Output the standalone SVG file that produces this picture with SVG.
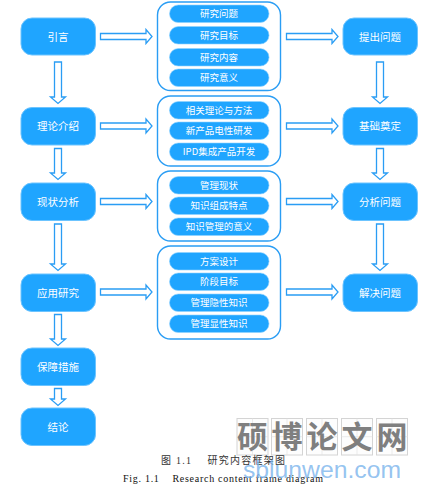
<svg xmlns="http://www.w3.org/2000/svg" width="425" height="489" viewBox="0 0 425 489">
<style>
text{font-family:"Noto Sans CJK SC","Liberation Sans",sans-serif}
.n{fill:#1fa5ff;stroke:#6cc4ff;stroke-width:1}
.g{fill:#fff;stroke:#2a9df4;stroke-width:1.4}
.p{fill:#1fa5ff;stroke:#8fd2ff;stroke-width:.6}
.t{fill:#fff;font-size:10.5px;text-anchor:middle}
.s{fill:#fff;font-size:9.5px;text-anchor:middle}
.a{fill:#fff;stroke:#2a9df4;stroke-width:1.3}
.w{fill:#fdfdfd;stroke:#d4d4d4;stroke-width:1}
.wl{stroke:#e2e2e2;stroke-width:.7;fill:none}
.wt{fill:#7f7f7f;font-size:31px;font-weight:700;text-anchor:middle;font-family:"Noto Sans CJK SC",sans-serif}
.c{font-family:"Liberation Serif","Noto Sans CJK SC",serif;font-size:10px}
</style>
<g id="connectors">
<path class="a" d="M100.500 33.500H146V29.500L152 36.500L146 43.500V39.500H100.500Z"/>
<path class="a" d="M100.500 123H146V119L152 126L146 133V129H100.500Z"/>
<path class="a" d="M100.500 198.500H146V194.500L152 201.500L146 208.500V204.500H100.500Z"/>
<path class="a" d="M100.500 289H146V285L152 292L146 299V295H100.500Z"/>
<path class="a" d="M286.500 33.500H332V29.500L338 36.500L332 43.500V39.500H286.500Z"/>
<path class="a" d="M286.500 123H332V119L338 126L332 133V129H286.500Z"/>
<path class="a" d="M286.500 198.500H332V194.500L338 201.500L332 208.500V204.500H286.500Z"/>
<path class="a" d="M286.500 289H332V285L338 292L332 299V295H286.500Z"/>
<path class="a" d="M54.500 62V97H50.500L58 103.500L65.500 97H61.500V62Z"/>
<path class="a" d="M54.500 148.500V173H50.500L58 179.500L65.500 173H61.500V148.500Z"/>
<path class="a" d="M54.500 224V264H50.500L58 270.500L65.500 264H61.500V224Z"/>
<path class="a" d="M54.500 314.500V339H50.500L58 345.500L65.500 339H61.500V314.500Z"/>
<path class="a" d="M54.500 388.500V399H50.500L58 405.500L65.500 399H61.500V388.500Z"/>
<path class="a" d="M376.500 62V97H372.500L380 103.500L387.500 97H383.500V62Z"/>
<path class="a" d="M376.500 148.500V173H372.500L380 179.500L387.500 173H383.500V148.500Z"/>
<path class="a" d="M376.500 224V264H372.500L380 270.500L387.500 264H383.500V224Z"/>
</g>
<g id="n-intro"><rect class="n" x="21" y="18" width="74.500" height="37" rx="11"/><text class="t" x="58" y="40.500">引言</text></g>
<g id="n-theory"><rect class="n" x="21" y="107.500" width="74.500" height="37.500" rx="11"/><text class="t" x="58" y="130">理论介绍</text></g>
<g id="n-status"><rect class="n" x="21" y="183" width="74.500" height="37.500" rx="11"/><text class="t" x="58" y="205.500">现状分析</text></g>
<g id="n-apply"><rect class="n" x="21" y="274" width="74.500" height="37.500" rx="11"/><text class="t" x="58" y="296.500">应用研究</text></g>
<g id="n-safe"><rect class="n" x="21" y="348" width="74.500" height="37.500" rx="11"/><text class="t" x="58" y="370.500">保障措施</text></g>
<g id="n-end"><rect class="n" x="21" y="408" width="74.500" height="37.500" rx="11"/><text class="t" x="58" y="430.500">结论</text></g>
<g id="n-q1"><rect class="n" x="343" y="18" width="74.500" height="37" rx="11"/><text class="t" x="380" y="40.500">提出问题</text></g>
<g id="n-q2"><rect class="n" x="343" y="107.500" width="74.500" height="37.500" rx="11"/><text class="t" x="380" y="130">基础奠定</text></g>
<g id="n-q3"><rect class="n" x="343" y="183" width="74.500" height="37.500" rx="11"/><text class="t" x="380" y="205.500">分析问题</text></g>
<g id="n-q4"><rect class="n" x="343" y="274" width="74.500" height="37.500" rx="11"/><text class="t" x="380" y="296.500">解决问题</text></g>
<g id="g1"><rect class="g" x="157.500" y="2" width="123" height="88.500" rx="13"/>
<rect class="p" x="169.500" y="5" width="99.500" height="17.500" rx="8.700"/><text class="s" x="219" y="17.300">研究问题</text>
<rect class="p" x="169.500" y="26.500" width="99.500" height="17.500" rx="8.700"/><text class="s" x="219" y="38.800">研究目标</text>
<rect class="p" x="169.500" y="48.500" width="99.500" height="17.500" rx="8.700"/><text class="s" x="219" y="60.800">研究内容</text>
<rect class="p" x="169.500" y="69" width="99.500" height="17.500" rx="8.700"/><text class="s" x="219" y="81.300">研究意义</text></g>
<g id="g2"><rect class="g" x="157.500" y="96" width="123" height="70" rx="13"/>
<rect class="p" x="169.500" y="101.500" width="99.500" height="17.500" rx="8.700"/><text class="s" x="219" y="113.800">相关理论与方法</text>
<rect class="p" x="169.500" y="122" width="99.500" height="17.500" rx="8.700"/><text class="s" x="219" y="134.300">新产品电性研发</text>
<rect class="p" x="169.500" y="143" width="99.500" height="17.500" rx="8.700"/><text class="s" x="219" y="155.300">IPD集成产品开发</text></g>
<g id="g3"><rect class="g" x="157.500" y="171" width="123" height="70" rx="13"/>
<rect class="p" x="169.500" y="176.500" width="99.500" height="17.500" rx="8.700"/><text class="s" x="219" y="188.800">管理现状</text>
<rect class="p" x="169.500" y="197" width="99.500" height="17.500" rx="8.700"/><text class="s" x="219" y="209.300">知识组成特点</text>
<rect class="p" x="169.500" y="218" width="99.500" height="17.500" rx="8.700"/><text class="s" x="219" y="230.300">知识管理的意义</text></g>
<g id="g4"><rect class="g" x="157.500" y="246" width="123" height="93" rx="13"/>
<rect class="p" x="169.500" y="252.500" width="99.500" height="17.500" rx="8.700"/><text class="s" x="219" y="264.800">方案设计</text>
<rect class="p" x="169.500" y="273" width="99.500" height="17.500" rx="8.700"/><text class="s" x="219" y="285.300">阶段目标</text>
<rect class="p" x="169.500" y="294" width="99.500" height="17.500" rx="8.700"/><text class="s" x="219" y="306.300">管理隐性知识</text>
<rect class="p" x="169.500" y="315" width="99.500" height="17.500" rx="8.700"/><text class="s" x="219" y="327.300">管理显性知识</text></g>
<g id="watermark">
<rect class="w" x="237" y="418.500" width="31" height="36.500"/><path class="wl" d="M252.500 418.500V455M237 436.700H268"/><text class="wt" x="252.500" y="448">硕</text>
<rect class="w" x="271.500" y="418.500" width="31" height="36.500"/><path class="wl" d="M287 418.500V455M271.500 436.700H302.500"/><text class="wt" x="287" y="448">博</text>
<rect class="w" x="306.500" y="418.500" width="31" height="36.500"/><path class="wl" d="M322 418.500V455M306.500 436.700H337.500"/><text class="wt" x="322" y="448">论</text>
<rect class="w" x="341.500" y="418.500" width="31" height="36.500"/><path class="wl" d="M357 418.500V455M341.500 436.700H372.500"/><text class="wt" x="357" y="448">文</text>
<rect class="w" x="376.500" y="418.500" width="31" height="36.500"/><path class="wl" d="M392 418.500V455M376.500 436.700H407.500"/><text class="wt" x="392" y="448">网</text>
</g>
<g id="caption">
<text class="c" x="161" y="464" fill="#333" textLength="124" lengthAdjust="spacing" xml:space="preserve">图 1.1    研究内容框架图</text>
<text class="c" x="123" y="481.500" fill="#111" textLength="200" lengthAdjust="spacing" xml:space="preserve">Fig. 1.1    Research content frame diagram</text>
</g>
<text x="243" y="478" fill="#7ab4ec" fill-opacity=".8" style="font-family:'Liberation Sans',sans-serif;font-size:23px" textLength="158" lengthAdjust="spacingAndGlyphs">sblunwen.com</text>
</svg>
